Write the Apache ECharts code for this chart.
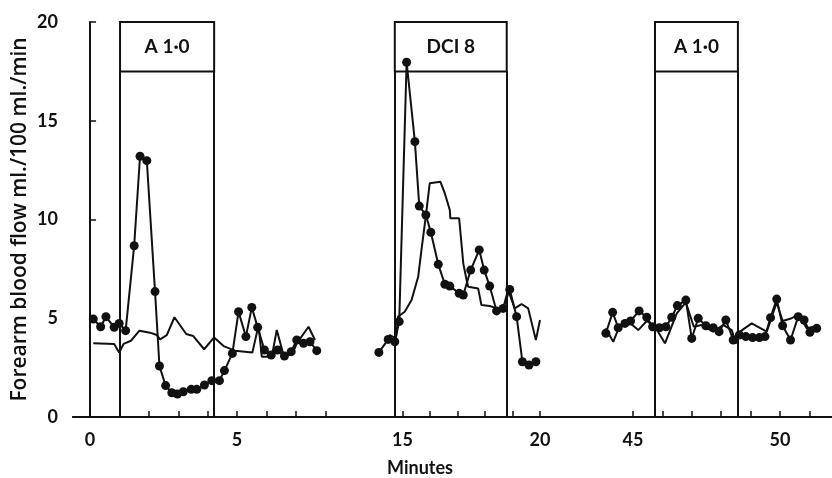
<!DOCTYPE html>
<html>
<head>
<meta charset="utf-8">
<script src="https://cdn.jsdelivr.net/npm/echarts@6/dist/echarts.min.js"></script>
<style>html,body{margin:0;padding:0;background:#fff}#c{width:832px;height:478px}</style>
</head>
<body>
<div id="c"></div>
<script>
// ---- data (minutes, flow ml/100 ml/min) ----
const panel1Dots = [[0.11,4.96],[0.36,4.57],[0.54,5.08],[0.82,4.54],[0.99,4.74],[1.21,4.37],[1.50,8.67],[1.70,13.2],[1.93,12.98],[2.21,6.35],[2.36,2.58],[2.57,1.59],[2.78,1.23],[2.97,1.16],[3.17,1.28],[3.44,1.40],[3.63,1.40],[3.89,1.62],[4.14,1.84],[4.40,1.84],[4.57,2.35],[4.84,3.22],[5.05,5.33],[5.30,4.07],[5.50,5.55],[5.70,4.54],[5.93,3.39],[6.16,3.14],[6.38,3.39],[6.61,3.09],[6.84,3.31],[7.03,3.90],[7.26,3.73],[7.48,3.81],[7.71,3.36]];
const panel1Line = [[0.11,3.73],[0.82,3.70],[0.99,3.26],[1.14,3.70],[1.39,3.86],[1.68,4.37],[2.04,4.27],[2.27,4.15],[2.38,3.93],[2.61,4.15],[2.87,5.05],[3.27,4.20],[3.51,4.10],[3.88,3.43],[4.22,4.03],[4.54,3.59],[4.93,3.36],[5.52,3.26],[5.73,4.65],[5.84,3.05],[6.18,3.05],[6.35,4.41],[6.58,3.14],[6.86,3.14],[7.03,3.73],[7.43,4.57],[7.65,3.90]];
const panel2Dots = [[14.14,3.27],[14.48,3.93],[14.72,3.81],[14.88,4.83],[15.15,17.96],[15.45,13.94],[15.61,10.68],[15.85,10.23],[16.03,9.35],[16.30,7.73],[16.54,6.72],[16.72,6.63],[17.06,6.26],[17.21,6.18],[17.48,7.44],[17.79,8.46],[17.97,7.44],[18.17,6.63],[18.42,5.37],[18.66,5.50],[18.90,6.46],[19.15,5.08],[19.36,2.80],[19.60,2.63],[19.85,2.80]];
const panel2Line = [[14.39,3.81],[14.54,4.15],[14.76,3.98],[14.84,5.08],[15.08,5.33],[15.33,5.92],[15.57,7.10],[15.69,8.46],[15.85,10.2],[15.99,11.83],[16.38,11.91],[16.54,11.32],[16.72,10.48],[16.74,10.06],[17.06,10.06],[17.21,7.78],[17.33,6.94],[17.39,6.60],[17.75,6.51],[17.87,5.67],[18.17,5.62],[18.44,5.50],[18.66,5.50],[18.84,6.43],[19.08,5.50],[19.33,5.72],[19.57,5.50],[19.85,3.90],[20.0,4.91]];
const panel3Dots = [[44.08,4.24],[44.31,5.30],[44.50,4.52],[44.73,4.74],[44.92,4.86],[45.21,5.37],[45.47,5.05],[45.67,4.57],[45.90,4.52],[46.12,4.57],[46.32,5.05],[46.51,5.64],[46.80,5.92],[47.00,3.98],[47.22,5.00],[47.48,4.62],[47.73,4.52],[47.93,4.32],[48.16,4.91],[48.41,3.90],[48.62,4.15],[48.84,4.07],[49.07,4.02],[49.30,4.02],[49.49,4.07],[49.68,5.03],[49.89,5.97],[50.09,4.62],[50.36,3.90],[50.62,5.08],[50.82,4.91],[51.02,4.29],[51.25,4.49]];
const panel3Line = [[44.07,4.49],[44.33,3.81],[44.56,4.66],[44.92,4.74],[45.18,4.40],[45.47,4.86],[45.75,4.57],[46.09,3.73],[46.49,5.25],[46.80,5.80],[47.07,4.57],[47.33,4.66],[47.73,4.32],[48.07,4.66],[48.36,4.40],[48.50,3.73],[48.64,4.32],[49.04,4.74],[49.55,4.32],[49.89,5.80],[50.09,4.86],[50.40,5.00],[50.62,5.20],[50.91,4.49],[51.14,4.57]];

// infusion periods [start, end] and labels
const infusionPeriods = [[1.02, 4.22], [14.72, 18.79], [45.75, 48.57]];
const infusionLabels = ['A 1·0', 'DCI 8', 'A 1·0'];
const boxBottom = 17.5;

// axis ticks / labels
const xRanges = [[-0.58, 8.33], [14.0, 20.0], [44.05, 51.77]];
const xTicks = [[0,1,2,3,4,5,6,7,8], [15,16,17,18,19,20], [45,46,47,48,49,50,51]];
const xLabels = [[0,5], [15,20], [45,50]];
const yTicks = [0, 5, 10, 15, 20];

const FONT = 'Lato';
const grids = [
  {left: 73, width: 262, top: 22, height: 395},
  {left: 375, width: 165, top: 22, height: 395},
  {left: 605, width: 227, top: 22, height: 395},
  {left: 73, right: 0, top: 22, height: 395}
];

const xAxes = xRanges.map((r, i) => ({
  type: 'value', gridIndex: i, min: r[0], max: r[1],
  axisLine: {show: true, onZero: false, lineStyle: {color: '#111', width: 2}},
  axisTick: {show: true, inside: true, length: 6, customValues: xTicks[i], lineStyle: {color: '#111', width: 1.5}},
  axisLabel: {show: true, customValues: xLabels[i], margin: 14, color: '#111', fontFamily: FONT, fontWeight: 'bold', fontSize: 18},
  splitLine: {show: false}
}));
xAxes.push({type: 'value', gridIndex: 3, position: 'top', min: 0, max: 1,
  axisLine: {show: true, lineStyle: {color: '#111', width: 2}}, axisTick: {show: false}, axisLabel: {show: false}, splitLine: {show: false}});

const yAxes = [0,1,2,3].map(i => ({
  type: 'value', gridIndex: i, min: 0, max: 20, show: i === 0,
  name: i === 0 ? 'Forearm blood flow ml./100 ml./min' : '',
  nameLocation: 'middle', nameGap: 42, nameRotate: 90,
  nameTextStyle: {color: '#111', fontFamily: 'Open Sans', fontWeight: 600, fontSize: 21},
  axisLine: {show: true, lineStyle: {color: '#111', width: 2}},
  axisTick: {show: true, inside: true, length: 6, customValues: yTicks, lineStyle: {color: '#111', width: 1.5}},
  axisLabel: {customValues: yTicks, margin: 15, color: '#111', fontFamily: FONT, fontWeight: 'bold', fontSize: 18},
  splitLine: {show: false}
}));

const dotsAll = [panel1Dots, panel2Dots, panel3Dots];
const linesAll = [panel1Line, panel2Line, panel3Line];
const series = [];
for (let i = 0; i < 3; i++) {
  const [s, e] = infusionPeriods[i];
  series.push({
    type: 'line', xAxisIndex: i, yAxisIndex: i, data: linesAll[i],
    showSymbol: false, symbol: 'none', lineStyle: {color: '#111', width: 2}, z: 3, silent: true
  });
  series.push({
    type: 'line', xAxisIndex: i, yAxisIndex: i, data: dotsAll[i],
    symbol: 'circle', symbolSize: 9, itemStyle: {color: '#111'},
    lineStyle: {color: '#111', width: 2}, z: 4, silent: true,
    markLine: {
      silent: true, symbol: 'none', label: {show: false},
      lineStyle: {color: '#111', width: 2, type: 'solid'},
      data: [
        [{coord: [s, 0]}, {coord: [s, boxBottom]}],
        [{coord: [e, 0]}, {coord: [e, boxBottom]}]
      ]
    },
    markArea: {
      silent: true,
      itemStyle: {color: 'rgba(0,0,0,0)', borderColor: '#111', borderWidth: 2},
      label: {show: true, position: 'inside', color: '#111', fontFamily: FONT, fontWeight: 'bold', fontSize: 19},
      data: [[{name: infusionLabels[i], coord: [s, boxBottom]}, {coord: [e, 20]}]]
    }
  });
}

const chart = echarts.init(document.getElementById('c'), null, {renderer: 'canvas'});
chart.setOption({
  animation: false,
  backgroundColor: '#fff',
  title: {text: 'Minutes', left: 415, top: 454, textAlign: 'center',
    textStyle: {color: '#111', fontFamily: FONT, fontWeight: 'bold', fontSize: 18}},
  grid: grids,
  xAxis: xAxes,
  yAxis: yAxes,
  series: series
});
</script>
</body>
</html>
